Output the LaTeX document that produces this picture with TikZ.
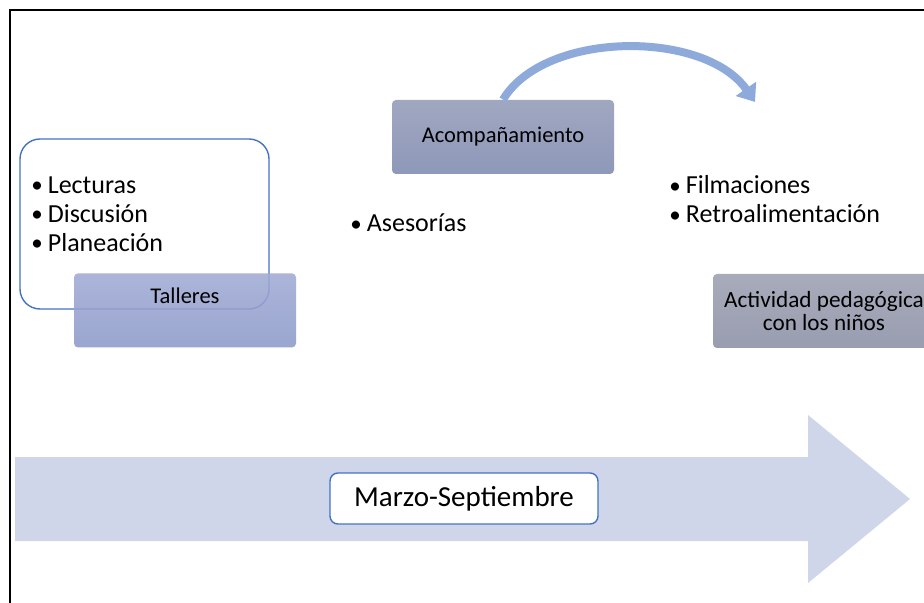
\documentclass[tikz,border=0pt]{standalone}
\usepackage{fontspec}
\setmainfont{Carlito}
\usetikzlibrary{arrows.meta}

\definecolor{flechafondo}{HTML}{CFD6EA}
\definecolor{azulborde}{HTML}{4472C4}
\definecolor{azulcurva}{HTML}{8EAADB}
\newcommand{\punto}{{\fontsize{11.5}{11.5}\selectfont\raisebox{0.3pt}{•}}\hspace{2.5pt}}

\begin{document}
\begin{tikzpicture}[x=0.5pt,y=-0.5pt,
    caja/.style={rounded corners=2pt, inner sep=0pt, minimum width=111pt,
                 align=center, font=\fontsize{11.25}{13.5}\selectfont},
    lista/.style={anchor=west, inner sep=0pt, align=left,
                  font=\fontsize{13}{14.5}\selectfont}]
    \useasboundingbox (0,0) rectangle (924,603);

    % Marco
    \draw[line width=1.2pt] (10,603) -- (10,10) -- (924,10);

    % Flecha de tiempo
    \fill[flechafondo] (15,457) -- (808,457) -- (808,415) -- (910,499)
        -- (808,583) -- (808,541) -- (15,541) -- cycle;
    \node[draw=azulborde, line width=0.7pt, fill=white, rounded corners=4pt,
          minimum width=134pt, minimum height=25.5pt, inner sep=0pt,
          font=\fontsize{14.5}{16}\selectfont] (periodo) at (464,498.5) {Marzo-Septiembre};

    % Talleres
    \draw[azulborde, line width=0.7pt, rounded corners=10pt] (20,139) rectangle (269,309);
    \node[lista] (lecturas) at (31,214) {\punto Lecturas\\ \punto Discusión\\ \punto Planeación};
    \node[caja, anchor=north, fill opacity=0.88, text opacity=1,
          top color={rgb,255:red,160;green,170;blue,212}, bottom color={rgb,255:red,140;green,154;blue,201},
          text height=15pt, text depth=22pt] (talleres) at (185,273) {Talleres};

    % Acompanamiento
    \node[caja, minimum height=37pt, top color={rgb,255:red,160;green,167;blue,192},
          bottom color={rgb,255:red,142;green,152;blue,185}] (acomp) at (503,137) {Acompañamiento};
    \node[lista] (asesorias) at (350,223) {\punto Asesorías};
    \coordinate (destino) at (755,102);
    \draw[azulcurva, line width=4pt, -{Triangle[length=8pt,width=12pt]}]
        (acomp.north) .. controls (545,30) and (705,30) .. (destino);

    % Actividad con los ninos
    \node[lista] (filmaciones) at (669,199.5) {\punto Filmaciones\\ \punto Retroalimentación};
    \node[caja, minimum height=37pt, top color={rgb,255:red,168;green,171;blue,186},
          bottom color={rgb,255:red,152;green,157;blue,176},
          font=\fontsize{11.6}{11.5}\selectfont] (actividad) at (824,311) {Actividad pedagógica\\con los niños};
\end{tikzpicture}
\end{document}
